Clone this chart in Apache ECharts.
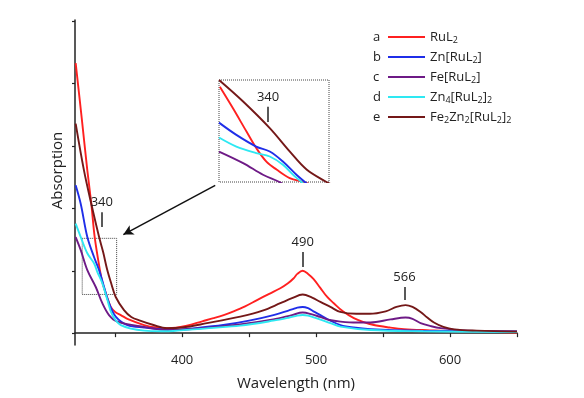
<!DOCTYPE html>
<html>
<head>
<meta charset="utf-8">
<script src="https://cdn.jsdelivr.net/npm/echarts@6/dist/echarts.min.js"></script>
<style>
  html, body { margin: 0; padding: 0; background: #fff; }
  #chart { width: 584px; height: 398px; }
</style>
</head>
<body>
<div id="chart"></div>
<script>
// spectra: [wavelength nm, absorption]
var seriesNames = ["RuL2", "Zn[RuL2]", "Fe[RuL2]", "Zn4[RuL2]2", "Fe2Zn2[RuL2]2"];
var seriesLetters = ["a", "b", "c", "d", "e"];
var seriesRich = ["RuL{s|2}", "Zn[RuL{s|2}]", "Fe[RuL{s|2}]", "Zn{s|4}[RuL{s|2}]{s|2}", "Fe{s|2}Zn{s|2}[RuL{s|2}]{s|2}"];
var seriesColors = ["#ff2020", "#1f2ee8", "#6e1a86", "#2ee8f2", "#741818"];

var ruL2 = [[320.5, 4.33], [325, 3.45], [329.2, 2.61], [332.2, 2.07], [334.7, 1.54], [338.6, 1.01], [340.6, 0.8],
  [343, 0.64], [346.7, 0.42], [350, 0.34], [354.2, 0.29], [360, 0.22], [371.6, 0.13], [380, 0.09], [390, 0.08],
  [403.5, 0.12], [415, 0.19], [423.4, 0.24], [431, 0.29], [438.4, 0.35], [447, 0.43], [455.9, 0.53], [465, 0.63],
  [473.3, 0.72], [479, 0.8], [483.3, 0.88], [486, 0.95], [490, 1.0], [494, 0.95], [498, 0.87], [503, 0.73],
  [508.3, 0.58], [513.2, 0.48], [520, 0.35], [528.2, 0.24], [535, 0.18], [543.1, 0.13], [555, 0.09],
  [565.6, 0.064], [585, 0.045], [603, 0.03], [625, 0.02], [650, 0.01]];
var znRuL2 = [[320.5, 2.37], [324.3, 2.07], [329.2, 1.54], [334.2, 1.22], [338, 1.01], [341.7, 0.74], [345.4, 0.48],
  [350.4, 0.265], [359.1, 0.13], [371.6, 0.09], [393.3, 0.05], [410, 0.08], [430.7, 0.13], [450, 0.2],
  [468.1, 0.29], [482, 0.38], [486, 0.41], [490, 0.42], [494, 0.4], [498, 0.35], [503.2, 0.29], [510.7, 0.2],
  [518.2, 0.13], [528, 0.09], [540.6, 0.064], [578, 0.04], [650, 0.026]];
var feRuL2 = [[320.5, 1.54], [324.3, 1.33], [329.2, 1.01], [335.5, 0.74], [340.4, 0.48], [345.4, 0.29],
  [351.6, 0.185], [371.6, 0.1], [390, 0.05], [415, 0.08], [443, 0.14], [468, 0.22], [482, 0.29], [490, 0.33],
  [497, 0.3], [503, 0.26], [510, 0.21], [518.2, 0.185], [530, 0.17], [540.6, 0.17], [555.6, 0.22],
  [566.8, 0.25], [572, 0.23], [578, 0.16], [586, 0.11], [593, 0.08], [610, 0.045], [650, 0.026]];
var zn4RuL22 = [[320.5, 1.755], [324.3, 1.54], [329.2, 1.28], [334.2, 1.12], [336.7, 0.98], [340.4, 0.8],
  [344.2, 0.53], [347.9, 0.29], [354.2, 0.13], [371.6, 0.04], [385, 0.03], [393.3, 0.035], [420, 0.08],
  [443.4, 0.12], [468, 0.2], [480, 0.25], [486, 0.28], [490, 0.29], [494, 0.28], [500, 0.24], [510.7, 0.16],
  [518.2, 0.105], [540.6, 0.05], [580, 0.03], [650, 0.016]];
var fe2Zn2RuL22 = [[320.5, 3.36], [326.7, 2.61], [332.2, 2.07], [338, 1.54], [341, 1.3], [344, 1.02],
  [347, 0.8], [350.4, 0.58], [356.6, 0.37], [362, 0.26], [368.6, 0.2], [378.6, 0.13], [388.6, 0.08],
  [400, 0.09], [418.5, 0.16], [443.4, 0.265], [460, 0.36], [473.3, 0.48], [482, 0.56], [490, 0.62],
  [497, 0.57], [503.2, 0.5], [510.7, 0.42], [518, 0.34], [530, 0.31], [540, 0.31], [552, 0.35], [560, 0.42],
  [566.8, 0.45], [572, 0.42], [578, 0.34], [583, 0.25], [588, 0.17], [595, 0.1], [603, 0.06], [620, 0.04],
  [650, 0.025]];
var mainData = [ruL2, znRuL2, feRuL2, zn4RuL22, fe2Zn2RuL22];

// enlarged view of the 325-351 nm window
var insetRuL2 = [[325.2, 1.44], [328.3, 1.25], [331.5, 1.045], [333.8, 0.9], [336.2, 0.78], [338.6, 0.71],
  [341.7, 0.635], [344.9, 0.6], [346.5, 0.58]];
var insetZnRuL2 = [[325, 1.124], [329.1, 1.016], [333.8, 0.913], [337, 0.869], [340.1, 0.781], [343.3, 0.664],
  [345.3, 0.6], [346.3, 0.57]];
var insetFeRuL2 = [[325, 0.869], [330.7, 0.767], [335.4, 0.664], [339.3, 0.6], [340.5, 0.57]];
var insetZn4RuL22 = [[325, 0.993], [329.1, 0.913], [333.8, 0.855], [337, 0.825], [340.1, 0.752], [342.9, 0.65],
  [344.5, 0.6], [345.3, 0.57]];
var insetFe2Zn2RuL22 = [[325, 1.5], [330.7, 1.31], [337, 1.075], [341.7, 0.87], [345.7, 0.71], [350.4, 0.6],
  [351.5, 0.58]];
var insetData = [insetRuL2, insetZnRuL2, insetFeRuL2, insetZn4RuL22, insetFe2Zn2RuL22];

var wavelengthTicks = [350, 400, 450, 500, 550, 600, 650];
var wavelengthLabels = [400, 500, 600];
var absorptionTicks = [0, 1, 2, 3, 4, 5];

// peak markers: [wavelength, line bottom, line top]
var peakMarks = [[340, 1.70, 1.94], [490, 1.06, 1.30], [566, 0.53, 0.74]];
var insetPeak = [336.6, 1.13, 1.265];
var zoomWindow = [[325.4, 1.52], [351.1, 0.62]];
var insetWindow = [[325, 1.5], [351, 0.6]];
var arrowFromTo = [[424.7, 2.37], [356.1, 1.58]];

var font = "Open Sans";
var chart = echarts.init(document.getElementById("chart"));

var series = [];
mainData.forEach(function (d, i) {
  series.push({
    name: seriesNames[i], type: "line", data: d, xAxisIndex: 0, yAxisIndex: 0,
    smooth: 0.35, showSymbol: false, color: seriesColors[i],
    lineStyle: { width: 1.9, color: seriesColors[i] }, z: 3
  });
});
insetData.forEach(function (d, i) {
  series.push({
    name: seriesNames[i], type: "line", data: d, xAxisIndex: 1, yAxisIndex: 1,
    smooth: 0.35, showSymbol: false, color: seriesColors[i],
    lineStyle: { width: 1.9, color: seriesColors[i] }, z: 3
  });
});

var boxStyle = { color: "rgba(0,0,0,0)", borderColor: "#444", borderWidth: 1, borderType: "dotted" };
var tickLabel = { show: true, position: "end", distance: 3, color: "#222", fontSize: 13, fontFamily: font };

// small window + arrow on the red main series
series[0].markArea = {
  silent: true, itemStyle: boxStyle,
  data: [[{ coord: zoomWindow[0] }, { coord: zoomWindow[1] }]]
};
series[0].markLine = {
  silent: true, symbol: ["none", "arrow"], symbolSize: [8, 10],
  lineStyle: { color: "#111", width: 1.5, type: "solid" }, label: { show: false },
  data: [[{ coord: arrowFromTo[0] }, { coord: arrowFromTo[1] }]]
};
// peak ticks on the brown main series
series[4].markLine = {
  silent: true, symbol: ["none", "none"],
  lineStyle: { color: "#222", width: 1.5, type: "solid" },
  data: peakMarks.map(function (p) {
    return [{ coord: [p[0], p[1]], label: Object.assign({ formatter: String(p[0]) }, tickLabel) },
            { coord: [p[0], p[2]] }];
  })
};
series[5].markArea = {
  silent: true, itemStyle: boxStyle,
  data: [[{ coord: insetWindow[0] }, { coord: insetWindow[1] }]]
};
series[9].markLine = {
  silent: true, symbol: ["none", "none"],
  lineStyle: { color: "#222", width: 1.5, type: "solid" },
  data: [[{ coord: [insetPeak[0], insetPeak[1]], label: Object.assign({ formatter: "340" }, tickLabel) },
          { coord: [insetPeak[0], insetPeak[2]] }]]
};

var legendText = {
  color: "#222", fontSize: 13, fontFamily: font, lineHeight: 16,
  rich: { s: { fontSize: 9, fontFamily: font, color: "#222", lineHeight: 10, verticalAlign: "bottom" } }
};

chart.setOption({
  animation: false,
  textStyle: { fontFamily: font },
  grid: [
    { left: 75, top: 20, right: 67, bottom: 53 },
    { left: 219, top: 80, width: 110, height: 102 }
  ],
  legend: [
    {
      data: seriesNames, orient: "vertical", left: 362, top: 24, itemGap: 4, icon: "none",
      itemWidth: 1, itemHeight: 2, selectedMode: false, textStyle: legendText,
      formatter: function (name) { return seriesLetters[seriesNames.indexOf(name)]; }
    },
    {
      data: seriesNames, orient: "vertical", left: 383, top: 24, itemGap: 4, icon: "rect",
      itemWidth: 37, itemHeight: 2, selectedMode: false, textStyle: legendText,
      formatter: function (name) { return seriesRich[seriesNames.indexOf(name)]; }
    }
  ],
  xAxis: [
    {
      type: "value", gridIndex: 0, min: 320, max: 650,
      name: "Wavelength (nm)", nameLocation: "middle", nameGap: 31,
      nameTextStyle: { fontSize: 15, color: "#222", fontFamily: font },
      axisLine: { lineStyle: { color: "#222", width: 1.5 } },
      axisTick: { customValues: wavelengthTicks, length: 4, lineStyle: { color: "#222", width: 1.2 } },
      axisLabel: { customValues: wavelengthLabels, margin: 9, fontSize: 13, color: "#222", fontFamily: font },
      splitLine: { show: false }
    },
    {
      type: "value", gridIndex: 1, min: 325, max: 351, show: false, splitLine: { show: false }
    }
  ],
  yAxis: [
    {
      type: "value", gridIndex: 0, min: -0.19, max: 5.02,
      name: "Absorption", nameLocation: "middle", nameGap: 10,
      nameTextStyle: { fontSize: 15, color: "#222", fontFamily: font, padding: [0, 0, 0, 24] },
      axisLine: { show: true, lineStyle: { color: "#222", width: 1.5 } },
      axisTick: { show: true, customValues: absorptionTicks, length: 3, lineStyle: { color: "#222", width: 1.2 } },
      axisLabel: { show: false },
      splitLine: { show: false }
    },
    {
      type: "value", gridIndex: 1, min: 0.6, max: 1.5, show: false, splitLine: { show: false }
    }
  ],
  series: series
});
</script>
</body>
</html>
